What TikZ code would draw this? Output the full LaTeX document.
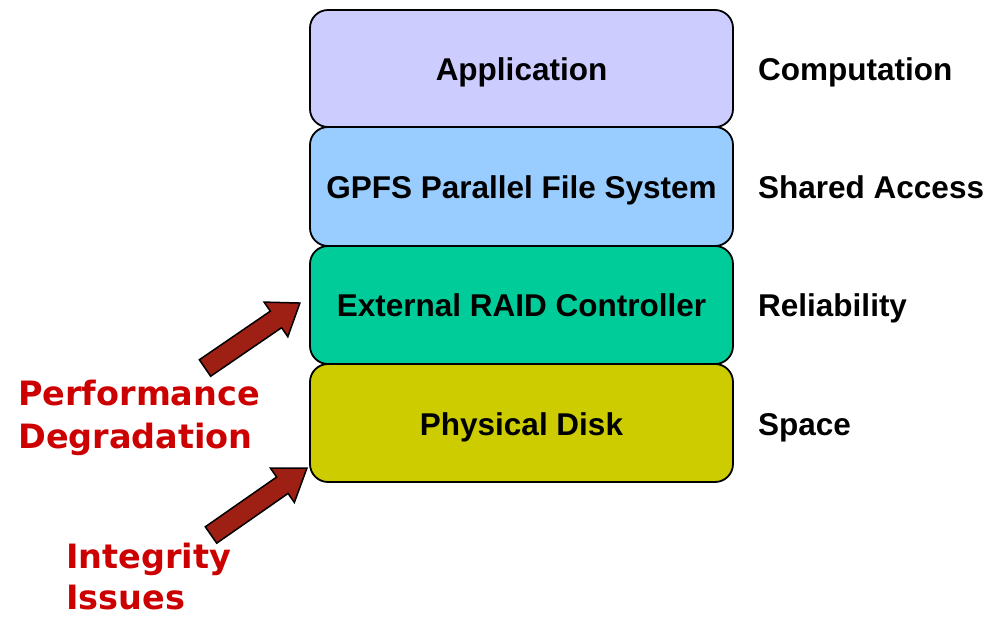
\documentclass[tikz,border=0pt]{standalone}
\usepackage{fontspec}
\setmainfont{Liberation Sans}
\newfontfamily\verd{DejaVu Sans}
\definecolor{appc}{HTML}{CCCCFF}
\definecolor{gpfsc}{HTML}{99CCFF}
\definecolor{raidc}{HTML}{00CC99}
\definecolor{diskc}{HTML}{CCCC00}
\definecolor{arrc}{HTML}{9E1F14}
\definecolor{redt}{HTML}{CC0000}
\begin{document}
\begin{tikzpicture}[x=1pt,y=-1pt,
  layer/.style={draw=black, line width=1.8pt, rounded corners=18pt},
  ltext/.style={font=\fontsize{31.5}{36}\selectfont\bfseries, text height=22.5pt, text depth=0pt, inner sep=0pt},
  rtext/.style={ltext, anchor=west},
  redlab/.style={font=\verd\fontsize{33.5}{43}\selectfont\bfseries, text=redt, anchor=base west, inner sep=0pt},
  blockarrow/.style={draw=black, line width=1.5pt, fill=arrc, line join=miter}]
\useasboundingbox (0,0) rectangle (1005,618);
% layers
\draw[layer, fill=diskc] (310,364) rectangle (733,482);
\draw[layer, fill=raidc] (310,246) rectangle (733,364);
\draw[layer, fill=gpfsc] (310,127) rectangle (733,246);
\draw[layer, fill=appc] (310,10) rectangle (733,127);
\node[ltext] (app) at (521.5,69) {Application};
\node[ltext] (gpfs) at (521.5,187) {GPFS Parallel File System};
\node[ltext] (raid) at (521.5,305) {External RAID Controller};
\node[ltext] (disk) at (521.5,424) {Physical Disk};
\node[rtext] (r1) at (758,69) {Computation};
\node[rtext] (r2) at (758,187) {Shared Access};
\node[rtext] (r3) at (758,305) {Reliability};
\node[rtext] (r4) at (758,424) {Space};
% red labels
\node[redlab] (perf) at (18,405) {Performance};
\node[redlab] (degr) at (18,448) {Degradation};
\node[redlab] (integ) at (66,568) {Integrity};
\node[redlab] (issues) at (66,609) {Issues};
% block arrows
\begin{scope}[shift={(205,368)}, rotate=34.4]
\draw[blockarrow] (0,-10) -- (86,-10) -- (86,-21) -- (115,0) -- (86,21) -- (86,10) -- (0,10) -- cycle;
\end{scope}
\begin{scope}[shift={(211,535)}, rotate=34.9]
\draw[blockarrow] (0,-10) -- (87,-10) -- (87,-21) -- (117,0) -- (87,21) -- (87,10) -- (0,10) -- cycle;
\end{scope}
\end{tikzpicture}
\end{document}
